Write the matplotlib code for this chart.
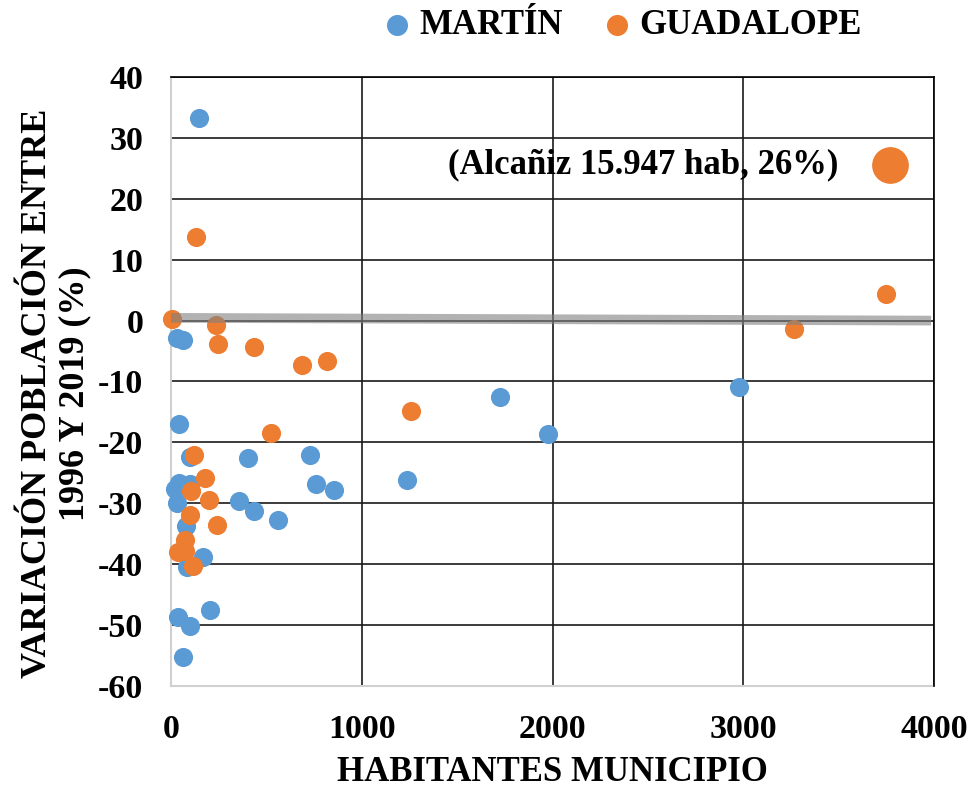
import matplotlib
matplotlib.use('Agg')
from matplotlib import pyplot as plt

plt.rcParams['font.family'] = ['Liberation Serif', 'DejaVu Serif']
plt.rcParams['font.weight'] = 'bold'
plt.rcParams['axes.unicode_minus'] = False

# habitantes / variacion (%)
martin_hab = [145, 33, 61, 42, 100, 404, 727, 44, 100, 21, 758, 854, 30, 355,
              437, 561, 79, 169, 82, 204, 38, 100, 65, 1237, 1725, 1976, 2979]
martin_var = [33.2, -2.8, -3.2, -17.0, -22.4, -22.5, -22.1, -26.7, -26.9, -27.7,
              -26.8, -27.8, -29.9, -29.7, -31.3, -32.8, -33.7, -38.8, -40.4,
              -47.5, -48.7, -50.1, -55.2, -26.1, -12.6, -18.6, -10.9]

guada_hab = [129, 3, 238, 248, 437, 685, 818, 1258, 3267, 3749, 526, 122, 178,
             103, 197, 100, 241, 75, 38, 73, 114]
guada_var = [13.7, 0.2, -0.8, -3.8, -4.3, -7.3, -6.6, -14.8, -1.4, 4.4, -18.5,
             -22.1, -25.8, -28.0, -29.4, -32.0, -33.5, -36.0, -38.0, -37.9, -40.3]

# tendencia (gris)
trend_x = [0, 3985]
trend_y = [0.45, 0.0]

# Alcañiz fuera de escala, se marca aparte
alcaniz_pos = (3769, 25.5)
alcaniz_txt = '(Alcañiz 15.947 hab, 26%)'

blue = '#5B9BD5'
orange = '#ED7D31'

fig = plt.figure(figsize=(9.74, 7.89), dpi=100)
ax = fig.add_axes([171/974, 1-686/789, (934-171)/974, (686-77)/789])

ax.scatter(martin_hab, martin_var, s=190, color=blue, label='MARTÍN',
           zorder=3, clip_on=False, linewidths=0)
ax.scatter(guada_hab, guada_var, s=190, color=orange, label='GUADALOPE',
           zorder=4, clip_on=False, linewidths=0)
ax.plot(trend_x, trend_y, color='#808080', lw=7, alpha=0.6, zorder=5,
        solid_capstyle='butt')

ax.scatter([alcaniz_pos[0]], [alcaniz_pos[1]], s=700, color=orange,
           zorder=4, clip_on=False, linewidths=0)
ax.text(3497, alcaniz_pos[1], alcaniz_txt, ha='right', va='center',
        fontsize=25, fontweight='bold')

ax.set_xlim(0, 4000)
ax.set_ylim(-60, 40)
ax.set_xticks(range(0, 4001, 1000))
ax.set_yticks(range(-60, 41, 10))
ax.grid(True, color='#1a1a1a', lw=1.2, zorder=1)
ax.set_axisbelow(True)
ax.tick_params(length=0, labelsize=24.5, pad=20)
for lab in ax.get_xticklabels() + ax.get_yticklabels():
    lab.set_fontweight('bold')

for side in ['top', 'right']:
    ax.spines[side].set_color('black')
    ax.spines[side].set_linewidth(1.2)
for side in ['left', 'bottom']:
    ax.spines[side].set_color('#d0d0d0')
    ax.spines[side].set_linewidth(1.5)
    ax.spines[side].set_zorder(2)

ax.set_xlabel('HABITANTES MUNICIPIO', fontsize=25, fontweight='bold', labelpad=8)
ax.set_ylabel('VARIACIÓN POBLACIÓN ENTRE\n1996 Y 2019 (%)', fontsize=26,
              fontweight='bold', labelpad=2, linespacing=1.2)
ax.yaxis.set_label_coords(-0.104, 0.48)

fig.legend(loc='upper center', bbox_to_anchor=(0.638, 1.006), ncol=2, frameon=False,
           handlelength=0.9, handletextpad=0.2, columnspacing=1.1, borderaxespad=0.0,
           markerscale=1.1, prop={'weight': 'bold', 'size': 25})

fig.savefig('out.png', dpi=100)
